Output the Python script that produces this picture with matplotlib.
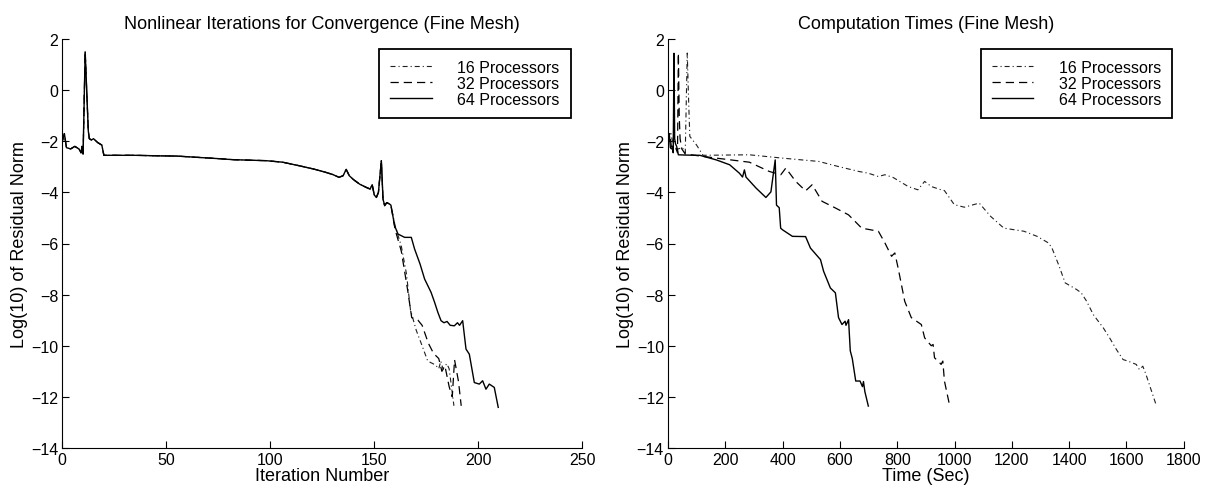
import numpy as np
import matplotlib
matplotlib.use("Agg")
import matplotlib.pyplot as plt

plt.rcParams['font.family'] = ['Liberation Sans', 'DejaVu Sans']

# shared part of the convergence history (all processor counts agree here)
it_common = [0, 1, 2, 4, 6, 7, 8, 9, 9.5, 10, 11, 12.5, 13, 14, 15, 17, 19, 20,
             25, 35, 46, 55, 65, 75, 82, 90, 98, 106, 114, 121, 126, 130, 133,
             135, 136.5, 138, 140, 143, 146, 148, 149, 150, 151, 152, 153.4,
             154.2, 155, 156, 157.4, 158]
res_common = [-2.0, -1.7, -2.25, -2.3, -2.2, -2.25, -2.3, -2.45, -2.2, -2.5, 1.5,
              -1.6, -1.9, -1.95, -1.9, -2.05, -2.15, -2.55, -2.55, -2.55, -2.57,
              -2.58, -2.63, -2.68, -2.72, -2.74, -2.76, -2.82, -2.96, -3.09,
              -3.2, -3.3, -3.41, -3.35, -3.1, -3.35, -3.5, -3.68, -3.8, -3.87,
              -3.7, -4.1, -4.2, -4.0, -2.76, -4.26, -4.52, -4.4, -4.46, -4.5]

# tails after iteration 158
it_16 = [160, 163, 165.5, 167.4, 170.2, 173, 175.7, 179.4, 181, 182, 183, 184.9, 186, 188.3]
res_16 = [-5.3, -6.1, -7.2, -8.6, -9.4, -10.0, -10.6, -10.75, -10.9, -10.6, -10.9, -10.7, -10.9, -12.35]
it_32 = [160, 163, 166, 168, 171, 173, 176, 178.5, 181, 182.5, 184, 186, 187.5, 188.6, 190.5, 191.8]
res_32 = [-5.45, -6.3, -7.8, -8.9, -9.0, -9.2, -9.9, -10.3, -10.5, -11.0, -10.8, -11.6, -12.0, -10.55, -11.4, -12.35]
it_64 = [159.8, 161.4, 164.6, 167.8, 169.4, 172, 174.2, 177.3, 179, 180.6, 182.1, 183.5,
         185, 186.5, 188.5, 190, 191, 192.5, 194.1, 195.7, 198.1, 200.5, 202.1,
         203.7, 205.3, 207.7, 209.6]
res_64 = [-5.31, -5.63, -5.76, -5.76, -6.22, -6.8, -7.39, -7.91, -8.3, -8.7, -9.02, -9.1,
          -9.05, -9.2, -9.22, -9.1, -9.2, -9.02, -10.13, -10.33, -11.44, -11.5, -11.37,
          -11.7, -11.5, -11.63, -12.41]

# computation time histories
t_16 = [0, 10, 20, 35, 50, 60, 67, 72, 76, 99, 122, 200, 284, 399, 526, 595, 665, 699,
        734, 757, 786, 838, 872, 895.5, 918.5, 953, 964.6, 999, 1034, 1086, 1126, 1172,
        1242, 1288, 1328, 1340, 1363, 1386, 1426, 1442, 1461, 1484, 1519, 1541, 1565,
        1588, 1605, 1634, 1645, 1657, 1668, 1703]
r_16 = [-2.0, -1.7, -2.25, -2.3, -2.25, -2.45, 1.45, -0.5, -1.81, -2.14, -2.55, -2.54,
        -2.53, -2.66, -2.79, -2.99, -3.18, -3.25, -3.38, -3.31, -3.42, -3.77, -3.9,
        -3.57, -3.77, -3.9, -3.93, -4.48, -4.58, -4.42, -4.94, -5.4, -5.52, -5.72,
        -5.98, -6.18, -6.83, -7.54, -7.8, -7.93, -8.26, -8.78, -9.3, -9.69, -10.15,
        -10.54, -10.6, -10.73, -10.93, -10.8, -11.12, -12.3]
t_32 = [0, 6, 12, 20, 28, 33, 36, 39, 42, 48, 60, 100, 168.5, 284, 353, 393.5, 411, 445.5,
        480, 503, 537.6, 584, 630, 676, 734, 757, 780, 791.5, 803, 826, 849, 884, 895.5,
        918.5, 925, 930, 947.6, 953, 959, 964.6, 982]
r_32 = [-2.0, -1.7, -2.25, -2.3, -2.3, -2.45, 1.45, -1.0, -1.9, -2.3, -2.5, -2.56, -2.66,
        -2.82, -3.18, -3.31, -3.05, -3.57, -3.94, -3.7, -4.35, -4.61, -4.88, -5.4, -5.52,
        -5.98, -6.5, -6.37, -6.96, -8.26, -8.9, -9.17, -9.69, -10.0, -9.95, -10.47,
        -10.66, -10.73, -10.6, -11.38, -12.3]
t_64 = [0, 4, 8, 12, 16, 18, 20.8, 23, 26, 30, 36, 60, 111, 168.5, 215, 249, 260, 266.5,
        272, 307, 341.5, 359, 374, 378.5, 388, 393, 399, 434, 480, 497, 532, 543, 566.5,
        584, 595, 607, 618, 621, 630, 636, 643, 655, 670, 678.5, 682, 687, 699]
r_64 = [-2.0, -1.7, -2.25, -2.3, -2.2, -2.45, 1.44, -1.9, -2.1, -2.2, -2.53, -2.54, -2.55,
        -2.73, -2.92, -3.25, -3.4, -3.12, -3.4, -3.83, -4.2, -3.98, -2.73, -4.5, -4.6,
        -5.4, -5.46, -5.72, -5.73, -6.18, -6.63, -7.09, -7.74, -7.93, -8.9, -9.17,
        -9.04, -9.2, -8.98, -10.2, -10.5, -11.38, -11.38, -11.6, -11.4, -11.8, -12.36]

labels = ['16 Processors', '32 Processors', '64 Processors']
styles = [(0, (4.5, 2.7, 1, 2.7)), (0, (6.6, 4)), '-']
lws = [0.8, 0.9, 1.0]
colors = ['#202020', 'black', 'black']

fig = plt.figure(figsize=(12.05, 4.89), dpi=100)
ax1 = fig.add_axes([0.0517, 0.0818, 0.4315, 0.8364])
ax2 = fig.add_axes([0.5544, 0.0818, 0.4280, 0.8364])

left_x = [it_common + it_16, it_common + it_32, it_common + it_64]
left_y = [res_common + res_16, res_common + res_32, res_common + res_64]
for x, y, ls, lw, c, lab in zip(left_x, left_y, styles, lws, colors, labels):
    ax1.plot(x, y, color=c, linestyle=ls, linewidth=lw, label=lab)

for x, y, ls, lw, c, lab in zip([t_16, t_32, t_64], [r_16, r_32, r_64], styles, lws, colors, labels):
    ax2.plot(x, y, color=c, linestyle=ls, linewidth=lw, label=lab)

ax1.set_xlim(0, 250)
ax2.set_xlim(0, 1800)
ax1.set_xticks(np.arange(0, 251, 50))
ax2.set_xticks(np.arange(0, 1801, 200))
ax1.set_title('Nonlinear Iterations for Convergence (Fine Mesh)', fontsize=13, pad=8)
ax2.set_title('Computation Times (Fine Mesh)', fontsize=13, pad=8)
ax1.set_xlabel('Iteration Number', fontsize=13, labelpad=0)
ax2.set_xlabel('Time (Sec)', fontsize=13, labelpad=0)

for ax in (ax1, ax2):
    ax.set_ylim(-14, 2)
    ax.set_yticks(np.arange(-14, 3, 2))
    ax.set_ylabel('Log(10) of Residual Norm', fontsize=13, labelpad=2)
    ax.spines['top'].set_visible(False)
    ax.spines['right'].set_visible(False)
    ax.tick_params(direction='in', length=5, labelsize=11.5, pad=3)
    leg = ax.legend(loc='upper right', bbox_to_anchor=(0.978, 0.976), borderaxespad=0,
                    fontsize=11.5, handlelength=2.6, handletextpad=1.6, labelspacing=0.05,
                    borderpad=0.7, fancybox=False, edgecolor='black', framealpha=1)
    leg.get_frame().set_linewidth(1.3)

fig.savefig('out.png', dpi=100)
